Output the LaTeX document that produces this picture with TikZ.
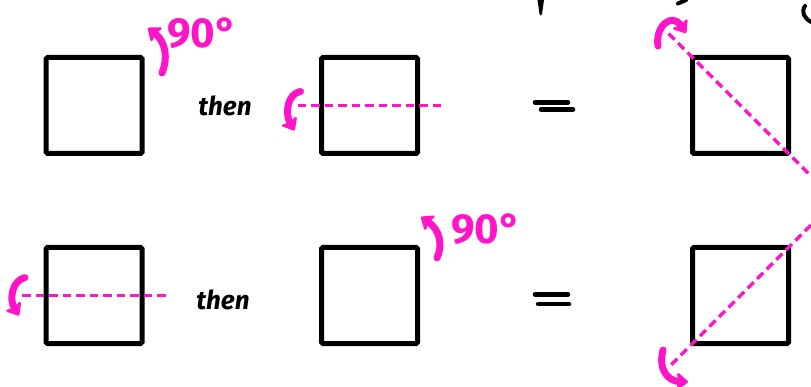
\documentclass[tikz,border=0pt]{standalone}
\usepackage{fontspec}
\newfontfamily\handfont{Fira Sans}
\usetikzlibrary{arrows.meta,calc}
\definecolor{mag}{RGB}{255,20,200}
\begin{document}
\begin{tikzpicture}[x=1pt,y=-1pt,
  sq/.style={draw, line width=5pt, minimum size=96pt, inner sep=0pt, outer sep=0pt, rounded corners=1.5pt},
  fold/.style={mag, line width=3.5pt, dash pattern=on 8.5pt off 5pt},
  turn/.style={mag, line width=7pt, line cap=round, line join=round,
    -{Stealth[length=13pt, width=21pt, inset=3pt, round]}},
  deg/.style={mag, inner sep=0pt, font=\handfont\bfseries\fontsize{42}{42}\selectfont},
  word/.style={inner sep=0pt, font=\handfont\bfseries\itshape\fontsize{26}{26}\selectfont},
  eq/.style={line width=4.5pt, line cap=round},
  ink/.style={line width=4pt, line cap=round}
]
\fill[white] (0,0) rectangle (811,387);
\useasboundingbox (0,0) rectangle (811,387);

% squares
\node[sq] (tl) at (94.2,105.5) {};
\node[sq] (tm) at (369.5,105.5) {};
\node[sq] (tr) at (740.5,105.5) {};
\node[sq] (bl) at (94,295.5) {};
\node[sq] (bm) at (369.5,295.5) {};
\node[sq] (br) at (740.5,295.5) {};

% texts
\node[deg] (d1) at (202,33) {90°};
\node[deg] (d2) at (486,229) {90°};
\node[word] (w1) at (225,106) {then};
\node[word] (w2) at (223,300) {then};

% equals signs
\draw[eq] (535,102.5) -- (568,102.5) (541,109.5) -- (573,109.5);
\draw[eq] (535,294.5) -- (568,294.5) (538,304) -- (569,304);

% fold lines
\coordinate (h1s) at ($(tm.west)+(-24,0)$);
\coordinate (h1e) at ($(tm.east)+(24,0)$);
\coordinate (h2s) at ($(bl.west)+(-24,0)$);
\coordinate (h2e) at ($(bl.east)+(24,0)$);
\coordinate (g1s) at ($(tr.north west)!-0.25!(tr.south east)$);
\coordinate (g1e) at ($(tr.north west)!1.234!(tr.south east)$);
\coordinate (g2s) at ($(br.north east)!-0.234!(br.south west)$);
\coordinate (g2e) at ($(br.north east)!1.25!(br.south west)$);
\draw[fold] (h1s) -- (h1e);
\draw[fold] (h2s) -- (h2e);
\draw[fold] (g1s) -- (g1e);
\draw[fold] (g2s) -- (g2e);

% flip arrows
\draw[turn] ($(h1s)+(3,-14)$) .. controls ($(h1s)+(-10,-12)$) and ($(h1s)+(-13,8)$) .. ($(h1s)+(-3,25)$);
\draw[turn] ($(h2s)+(3,-18)$) .. controls ($(h2s)+(-10,-15)$) and ($(h2s)+(-13,4)$) .. ($(h2s)+(-3,20)$);
\draw[turn] (658,46) .. controls (655,26) and (672,12) .. (686,33);
\draw[turn] (663,350) .. controls (658,370) and (668,381) .. (688,382);

% rotation arrows
\coordinate (r1s) at (162,73);
\coordinate (r1e) at (148,28);
\coordinate (r2s) at (437,258);
\coordinate (r2e) at (421,217);
\draw[turn] (r1s) .. controls (168,58) and (166,42) .. (r1e);
\draw[turn] (r2s) .. controls (443,245) and (440,230) .. (r2e);

% cut-off strokes at the top edge
\fill (537.5,0) -- (544,0) -- (542,14) .. controls (541,16) and (540,16) .. (539.5,14) -- cycle;
\draw[ink] (678,3.5) -- (686,0);
\draw[ink] (805,6) .. controls (801,12) and (804,18) .. (811,22);
\end{tikzpicture}
\end{document}
